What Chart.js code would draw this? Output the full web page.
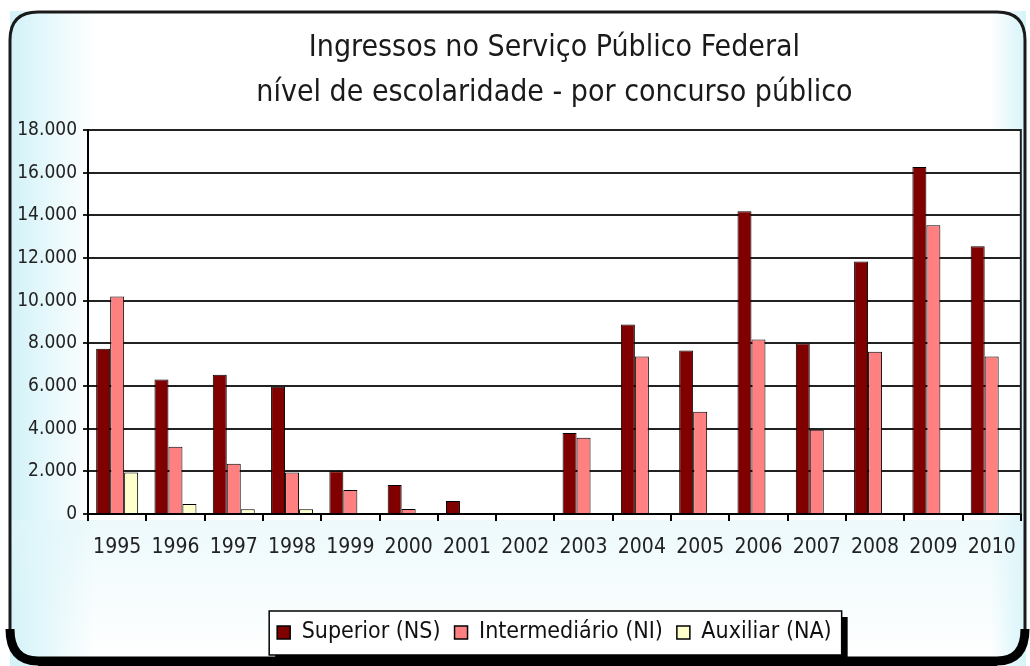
<!DOCTYPE html>
<html>
<head>
<meta charset="utf-8">
<script src="https://cdn.jsdelivr.net/npm/chart.js@4.4.1/dist/chart.umd.min.js"></script>
<style>
  html, body { margin: 0; padding: 0; background: #ffffff; }
  #wrap { width: 1030px; height: 666px; position: relative; }
</style>
</head>
<body>
<div id="wrap"><canvas id="c" width="1030" height="666"></canvas></div>
<script>
const years = ['1995','1996','1997','1998','1999','2000','2001','2002','2003','2004','2005','2006','2007','2008','2009','2010'];
const superiorNS = [7750, 6300, 6530, 5970, 2000, 1360, 610, 0, 3800, 8880, 7660, 14190, 7990, 11840, 16260, 12550];
const intermediarioNI = [10200, 3150, 2350, 1950, 1130, 230, 0, 0, 3570, 7380, 4790, 8180, 3950, 7610, 13530, 7380];
const auxiliarNA = [1950, 470, 220, 220, 0, 0, 0, 0, 0, 0, 0, 0, 0, 0, 0, 0];
const seriesNames = ['Superior (NS)', 'Intermediário (NI)', 'Auxiliar (NA)'];
const titleLines = ['Ingressos no Serviço Público Federal', 'nível de escolaridade - por concurso público'];

const NARROW = '"DejaVu Sans Condensed", "Liberation Sans Narrow", "Liberation Sans", Arial, sans-serif';

function fmtThousands(v) {
  if (v === 0) return '0';
  const s = String(Math.round(v));
  return s.replace(/\B(?=(\d{3})+(?!\d))/g, '.');
}

const decorPlugin = {
  id: 'decor',
  beforeDraw(chart) {
    const ctx = chart.ctx;
    const W = chart.width, H = chart.height;
    ctx.save();
    ctx.fillStyle = '#ffffff';
    ctx.fillRect(0, 0, W, H);
    // cyan tint at left and right edges
    const gl = ctx.createLinearGradient(10, 0, 95, 0);
    gl.addColorStop(0, 'rgba(210,242,248,1)');
    gl.addColorStop(1, 'rgba(210,242,248,0)');
    ctx.fillStyle = gl;
    ctx.fillRect(10, 0, 85, H);
    const gr = ctx.createLinearGradient(990, 0, 1025, 0);
    gr.addColorStop(0, 'rgba(215,244,249,0)');
    gr.addColorStop(1, 'rgba(215,244,249,1)');
    ctx.fillStyle = gr;
    ctx.fillRect(990, 0, 36, H);
    const gb = ctx.createLinearGradient(0, 520, 0, 660);
    gb.addColorStop(0, 'rgba(225,246,250,0.6)');
    gb.addColorStop(1, 'rgba(225,246,250,0)');
    ctx.fillStyle = gb;
    ctx.fillRect(10, 520, 1015, 140);
    // white outside frame
    ctx.fillStyle = '#ffffff';
    ctx.fillRect(0, 0, 9, H);
    ctx.fillRect(0, 0, W, 11);
    ctx.fillRect(1027, 0, 3, H);
    // frame
    const x0 = 10, y0 = 12, x1 = 1025, y1 = 661, r = 28;
    ctx.strokeStyle = '#1a1a1a';
    ctx.lineWidth = 3;
    ctx.beginPath();
    ctx.moveTo(x0, y1 - r);
    ctx.lineTo(x0, y0 + r);
    ctx.quadraticCurveTo(x0, y0, x0 + r, y0);
    ctx.lineTo(x1 - r, y0);
    ctx.quadraticCurveTo(x1, y0, x1, y0 + r);
    ctx.lineTo(x1, y1 - r);
    ctx.stroke();
    ctx.lineWidth = 9;
    ctx.strokeStyle = '#000000';
    ctx.beginPath();
    ctx.moveTo(x0, y1 - r - 4);
    ctx.quadraticCurveTo(x0, y1, x0 + r, y1);
    ctx.lineTo(x1 - r, y1);
    ctx.quadraticCurveTo(x1, y1, x1, y1 - r - 4);
    ctx.stroke();
    ctx.fillStyle = '#000';
    ctx.fillRect(x0 + r, y1, x1 - x0 - 2 * r, H - y1);

    // legend box with shadow
    const lg = chart.legend;
    if (lg && lg.legendHitBoxes && lg.legendHitBoxes.length) {
      const hb = lg.legendHitBoxes;
      const lx = hb[0].left - 8;
      const rx = hb[hb.length - 1].left + hb[hb.length - 1].width + 10;
      const ty = hb[0].top - 10;
      const by = hb[0].top + hb[0].height + 11;
      ctx.fillStyle = '#000';
      ctx.fillRect(lx + 6, ty + 6, rx - lx, by - ty);
      ctx.fillStyle = '#ffffff';
      ctx.fillRect(lx, ty, rx - lx, by - ty);
      ctx.strokeStyle = '#000';
      ctx.lineWidth = 1.5;
      ctx.strokeRect(lx, ty, rx - lx, by - ty);
    }
    const ca = chart.chartArea;
    ctx.fillStyle = '#ffffff';
    ctx.fillRect(ca.left, ca.top, ca.right - ca.left, ca.bottom - ca.top);
    ctx.restore();
  },
  afterDraw(chart) {
    const ctx = chart.ctx;
    const ca = chart.chartArea;
    ctx.save();
    ctx.strokeStyle = '#222';
    ctx.lineWidth = 2;
    ctx.beginPath();
    ctx.moveTo(ca.right, ca.top - 1);
    ctx.lineTo(ca.right, ca.bottom);
    ctx.stroke();
    ctx.restore();
  }
};

new Chart(document.getElementById('c'), {
  type: 'bar',
  data: {
    labels: years,
    datasets: [
      { label: seriesNames[0], data: superiorNS, backgroundColor: '#800000', borderColor: '#000000', borderWidth: 1 },
      { label: seriesNames[1], data: intermediarioNI, backgroundColor: '#ff8080', borderColor: '#000000', borderWidth: 1 },
      { label: seriesNames[2], data: auxiliarNA, backgroundColor: '#ffffcc', borderColor: '#000000', borderWidth: 1 }
    ]
  },
  options: {
    responsive: false,
    animation: false,
    devicePixelRatio: 1,
    layout: { padding: { left: 18, right: 8, top: 26, bottom: 12 } },
    datasets: { bar: { categoryPercentage: 0.72, barPercentage: 1.0 } },
    plugins: {
      tooltip: { enabled: false },
      title: {
        display: true,
        fullSize: false,
        text: titleLines,
        color: '#1a1a1a',
        font: { family: NARROW, size: 30, weight: 'normal', lineHeight: 1.5 },
        padding: { top: 0, bottom: 14 }
      },
      legend: {
        display: true,
        position: 'bottom',
        fullSize: false,
        labels: {
          color: '#111',
          font: { family: NARROW, size: 23 },
          boxWidth: 13,
          boxHeight: 13,
          padding: 14,
          generateLabels(chart) {
            return chart.data.datasets.map((ds, i) => ({
              text: ds.label,
              fillStyle: ds.backgroundColor,
              strokeStyle: '#000',
              lineWidth: 1.5,
              datasetIndex: i,
              hidden: false,
              fontColor: '#111'
            }));
          }
        }
      }
    },
    scales: {
      x: {
        grid: { display: true, drawOnChartArea: false, drawTicks: true, tickLength: 7, offset: true, color: '#000', lineWidth: 2 },
        border: { display: true, color: '#000', width: 2 },
        ticks: { color: '#222', font: { family: NARROW, size: 21 }, padding: 14, maxRotation: 0, autoSkip: false },
        afterFit(s) { s.height = 93; }
      },
      y: {
        min: 0,
        max: 18000,
        ticks: { stepSize: 2000, color: '#222', font: { family: NARROW, size: 19 }, padding: 6, callback: v => fmtThousands(v) },
        grid: { color: '#222', lineWidth: 2, tickLength: 5 },
        border: { display: true, color: '#000', width: 2 },
        afterFit(s) { s.width = 70; }
      }
    }
  },
  plugins: [decorPlugin]
});
</script>
</body>
</html>
